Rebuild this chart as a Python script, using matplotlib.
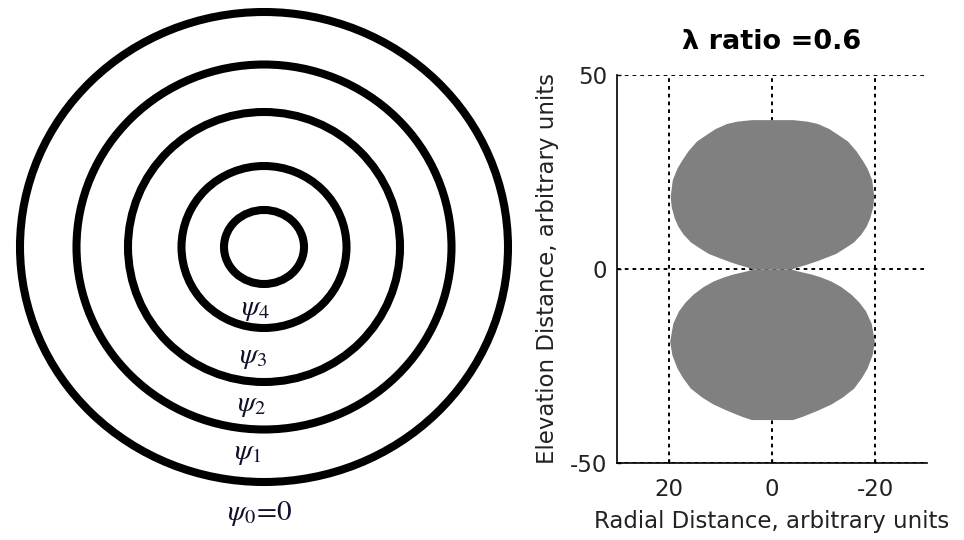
import numpy as np
import matplotlib
matplotlib.use('Agg')
import matplotlib.pyplot as plt
from matplotlib.patches import Ellipse

# left panel: concentric rings (pixel-ish units, centre at 0,0)
ring_rx = [244, 187.5, 136, 82.5, 40]
ring_ry = [235, 182.5, 135, 81, 37]
psi_labels = [r'$\psi_{4}$', r'$\psi_{3}$', r'$\psi_{2}$', r'$\psi_{1}$', r'$\psi_{0}\!=\!0$']
psi_x = [-9, -11, -13, -16, -4]
psi_y = [-62, -110, -158, -206, -267]

# right panel: lobe outline (elevation, half width)
upper_elev = [0.0, 0.5, 1.2, 2.0, 2.8, 4.0, 5.4, 7.0, 9.0, 11.0, 13.1, 16.0, 18.8,
              23.0, 26.0, 28.0, 30.4, 33.0, 34.8, 36.2, 37.5, 38.1, 38.5]
upper_half = [3.7, 4.8, 6.6, 8.4, 10.0, 12.3, 14.0, 15.8, 17.2, 18.2, 18.9, 19.5, 19.7,
              19.3, 18.4, 17.5, 16.3, 14.6, 12.6, 11.0, 8.8, 6.8, 4.0]
lower_elev = [0.0, -0.5, -1.3, -2.0, -3.1, -4.5, -6.5, -8.5, -10.8, -14.0, -18.6,
              -22.0, -25.5, -28.0, -30.7, -33.0, -34.8, -36.5, -38.0, -38.8]
lower_half = [3.7, 5.0, 7.6, 9.3, 11.4, 13.3, 15.3, 16.8, 18.1, 19.2, 19.8,
              19.4, 18.4, 17.3, 15.8, 13.6, 11.4, 8.6, 5.8, 4.0]

xticks = [20, 0, -20]
yticks = [-50, 0, 50]

plt.rcParams['font.family'] = 'DejaVu Sans'
plt.rcParams['mathtext.fontset'] = 'stix'
plt.rcParams['axes.unicode_minus'] = False

fig = plt.figure(figsize=(9.64, 5.4), dpi=100)

ax1 = fig.add_axes([0, 0, 520/964, 1])
ax1.set_xlim(-264, 256)
ax1.set_ylim(-293, 247)
ax1.axis('off')
for rx, ry in zip(ring_rx, ring_ry):
    ax1.add_patch(Ellipse((0, 0), 2*rx, 2*ry, fill=False, ec='black', lw=5.8))
for lab, x, y in zip(psi_labels, psi_x, psi_y):
    ax1.text(x, y, lab, ha='center', va='center', fontsize=21, color='#10102a')

ax2 = fig.add_axes([617/964, 77/540, 310/964, 388/540])
ax2.fill_betweenx(upper_elev, [-w for w in upper_half], upper_half, color='#808080', lw=0)
ax2.fill_betweenx(lower_elev, [-w for w in lower_half], lower_half, color='#808080', lw=0)
ax2.set_xlim(30, -30)
ax2.set_ylim(-50, 50)
ax2.set_xticks(xticks)
ax2.set_yticks(yticks)
ax2.set_axisbelow(True)
ax2.grid(True, color='black', lw=1.4, linestyle=(0, (1.9, 2.1)))
ax2.spines['top'].set_visible(False)
ax2.spines['right'].set_visible(False)
for s in ['left', 'bottom']:
    ax2.spines[s].set_linewidth(1.2)
ax2.tick_params(direction='in', length=3, width=1, labelsize=16.5, colors='black')
ax2.tick_params(axis='x', pad=11)
ax2.tick_params(axis='y', pad=7)
for t in ax2.get_xticklabels() + ax2.get_yticklabels():
    t.set_color('#222222')
ax2.set_xlabel('Radial Distance, arbitrary units', fontsize=16.5, color='#222222', labelpad=6)
ax2.set_ylabel('Elevation Distance, arbitrary units', fontsize=16.5, color='#222222', labelpad=8)
ax2.set_title('λ ratio =0.6', fontsize=19.5, fontweight='bold', pad=19)

fig.savefig('out.png', dpi=100)
